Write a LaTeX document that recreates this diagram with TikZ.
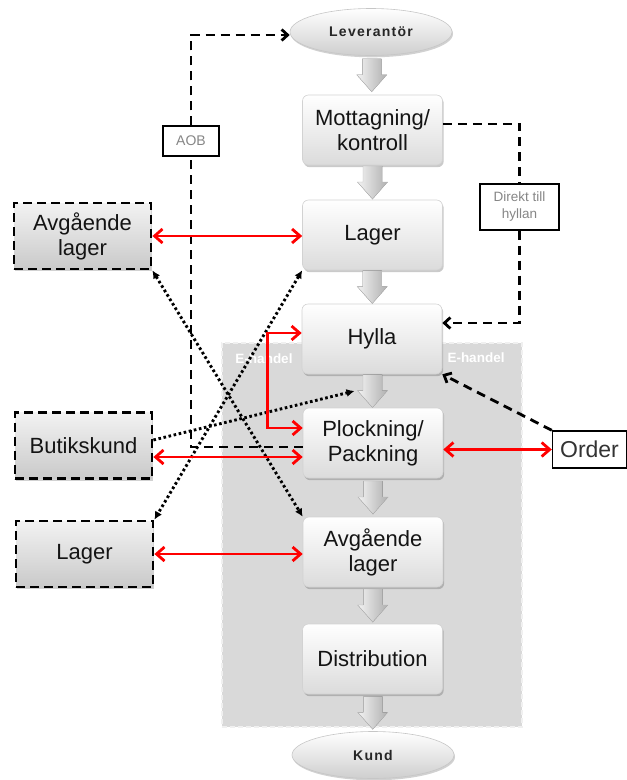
\documentclass[tikz,border=0pt]{standalone}
\usepackage{fontspec}
\setmainfont{Liberation Sans}
\usetikzlibrary{arrows.meta,shapes.geometric,shadows,calc}

\begin{document}
\begin{tikzpicture}[x=1pt,y=-1pt,
  flowbox/.style={rectangle, rounded corners=6pt, minimum width=140pt, minimum height=70pt,
    top color=white, bottom color=gray!28, draw=gray!35, line width=0.6pt,
    drop shadow={shadow xshift=1.2pt, shadow yshift=-2.2pt, opacity=0.35, fill=black!60},
    font=\fontsize{22}{25}\selectfont, align=center, text=black!92},
  sidebox/.style={rectangle, minimum width=137pt, minimum height=66pt,
    top color=gray!10, bottom color=gray!42, draw=black, line width=2.8pt,
    dash pattern=on 9pt off 5pt,
    drop shadow={shadow xshift=1.2pt, shadow yshift=-2.2pt, opacity=0.3, fill=black!60},
    font=\fontsize{22}{25}\selectfont, align=center, text=black!92},
  endpoint/.style={ellipse, minimum width=162pt, minimum height=47pt,
    top color=white, middle color=gray!18, bottom color=gray!38, draw=gray!45, line width=0.6pt,
    drop shadow={shadow xshift=1pt, shadow yshift=-1.8pt, opacity=0.3, fill=black!60},
    font=\bfseries\fontsize{14}{15}\selectfont\addfontfeatures{LetterSpace=9}, text=black!85},
  flowarrow/.style={left color=gray!10, right color=gray!62, draw=gray!55, line width=0.4pt},
  orderbox/.style={rectangle, minimum width=74pt, minimum height=37pt, fill=white,
    draw=black, line width=1.4pt, font=\fontsize{23}{26}\selectfont, text=black!80},
  tag/.style={rectangle, fill=white, draw=black, line width=1.2pt, text=gray!95,
    inner sep=0pt, align=center},
  zonelabel/.style={font=\bfseries\fontsize{13.5}{15}\selectfont, text=white},
  redarrow/.style={draw=red, line width=2.8pt, {Straight Barb[length=8pt,width=14pt]}-{Straight Barb[length=8pt,width=14pt]}},
  dashline/.style={draw=black, line width=2.8pt, dash pattern=on 9pt off 6pt},
  dashtip/.style={-{Straight Barb[length=6pt,width=11pt]}},
  dotline/.style={draw=black, line width=2.9pt, dash pattern=on 2.6pt off 2.6pt},
  dottip/.style={{Latex[length=8pt,width=8pt]}-{Latex[length=8pt,width=8pt]}},
]
\useasboundingbox (0,0) rectangle (627,780);

% E-handel zone
\node[rectangle, minimum width=300pt, minimum height=384pt, fill=gray!30,
      draw=gray!12, line width=1.5pt, dash pattern=on 5pt off 3pt] (ehandel) at (372,535) {};
\node[zonelabel] (ehL) at (264,359) {E-handel};
\node[zonelabel] (ehR) at (476,358) {E-handel};

% main flow
\node[endpoint] (lev) at (371,32) {Leverantör};
\node[flowbox] (mott) at (372.5,130) {Mottagning/\\kontroll};
\node[flowbox] (lagerM) at (372.5,235) {Lager};
\node[flowbox] (hylla) at (372,339) {Hylla};
\node[flowbox] (plock) at (373,443) {Plockning/\\Packning};
\node[flowbox] (avgM) at (373,552) {Avgående\\lager};
\node[flowbox] (dist) at (372.5,659) {Distribution};
\node[endpoint] (kund) at (373,755) {Kund};

% side boxes
\node[sidebox] (avgL) at (82.5,236) {Avgående\\lager};
\node[sidebox] (butik) at (83.5,445.5) {Butikskund};
\node[sidebox] (lagerL) at (84.5,554) {Lager};
\node[orderbox] (order) at (589.5,449.5) {Order};

% labels on the dashed routes
\node[tag, minimum width=56pt, minimum height=30pt, font=\fontsize{14}{16}\selectfont] (aob) at (191,141) {AOB};
\node[tag, minimum width=79pt, minimum height=46pt, font=\fontsize{13.5}{17}\selectfont] (direkt) at (519.5,207) {Direkt till\\hyllan};

% block arrows along the flow (shaft 19pt wide, head 30pt wide)
\foreach \a/\b/\n in {lev/mott/fa1, mott/lagerM/fa2, lagerM/hylla/fa3, hylla/plock/fa4,
                     plock/avgM/fa5, avgM/dist/fa6, dist/kund/fa7}{
  \coordinate (\n) at ($(\a.south)!0.5!(\b.north)$);
  \filldraw[flowarrow]
    ([shift={(-9.5pt,16.5pt)}]\n) -- ([shift={(9.5pt,16.5pt)}]\n)
    -- ([shift={(9.5pt,0.5pt)}]\n) -- ([shift={(15pt,0.5pt)}]\n)
    -- ([shift={(0pt,-16.5pt)}]\n) -- ([shift={(-15pt,0.5pt)}]\n)
    -- ([shift={(-9.5pt,0.5pt)}]\n) -- cycle;
}
\coordinate (shelfpick) at ($(fa4)+(-18pt,0pt)$);

% dashed routes
\draw[dashline] ([yshift=-4pt]plock.west) -| (aob.south);
\draw[dashline, dashtip] (aob.north) |- ([yshift=-3pt]lev.west);
\draw[dashline] ([yshift=6pt]mott.east) -| (direkt.north);
\draw[dashline, dashtip] (direkt.south) |- ([yshift=16pt]hylla.east);
\draw[dashline, dashtip] (order.north west) -- (hylla.south east);

% dotted routes
\draw[dotline, dottip] (avgL.south east) -- (avgM.north west);
\draw[dotline, dottip] (lagerM.south west) -- (lagerL.north east);
\draw[dotline, -{Latex[length=8pt,width=8pt]}] ([yshift=5.5pt]butik.east) -- (shelfpick);

% red two-way links
\draw[redarrow] (avgL.east) -- (avgL.east -| lagerM.west);
\draw[redarrow] ([yshift=-11.5pt]butik.east) -- ([yshift=-11.5pt]butik.east -| plock.west);
\draw[redarrow] (lagerL.east) -- (lagerL.east -| avgM.west);
\draw[redarrow] (order.west) -- (order.west -| plock.east);
\draw[redarrow] ([yshift=6pt]hylla.west) -- ++(-34pt,0pt) |- ([yshift=15pt]plock.west);
\end{tikzpicture}
\end{document}
